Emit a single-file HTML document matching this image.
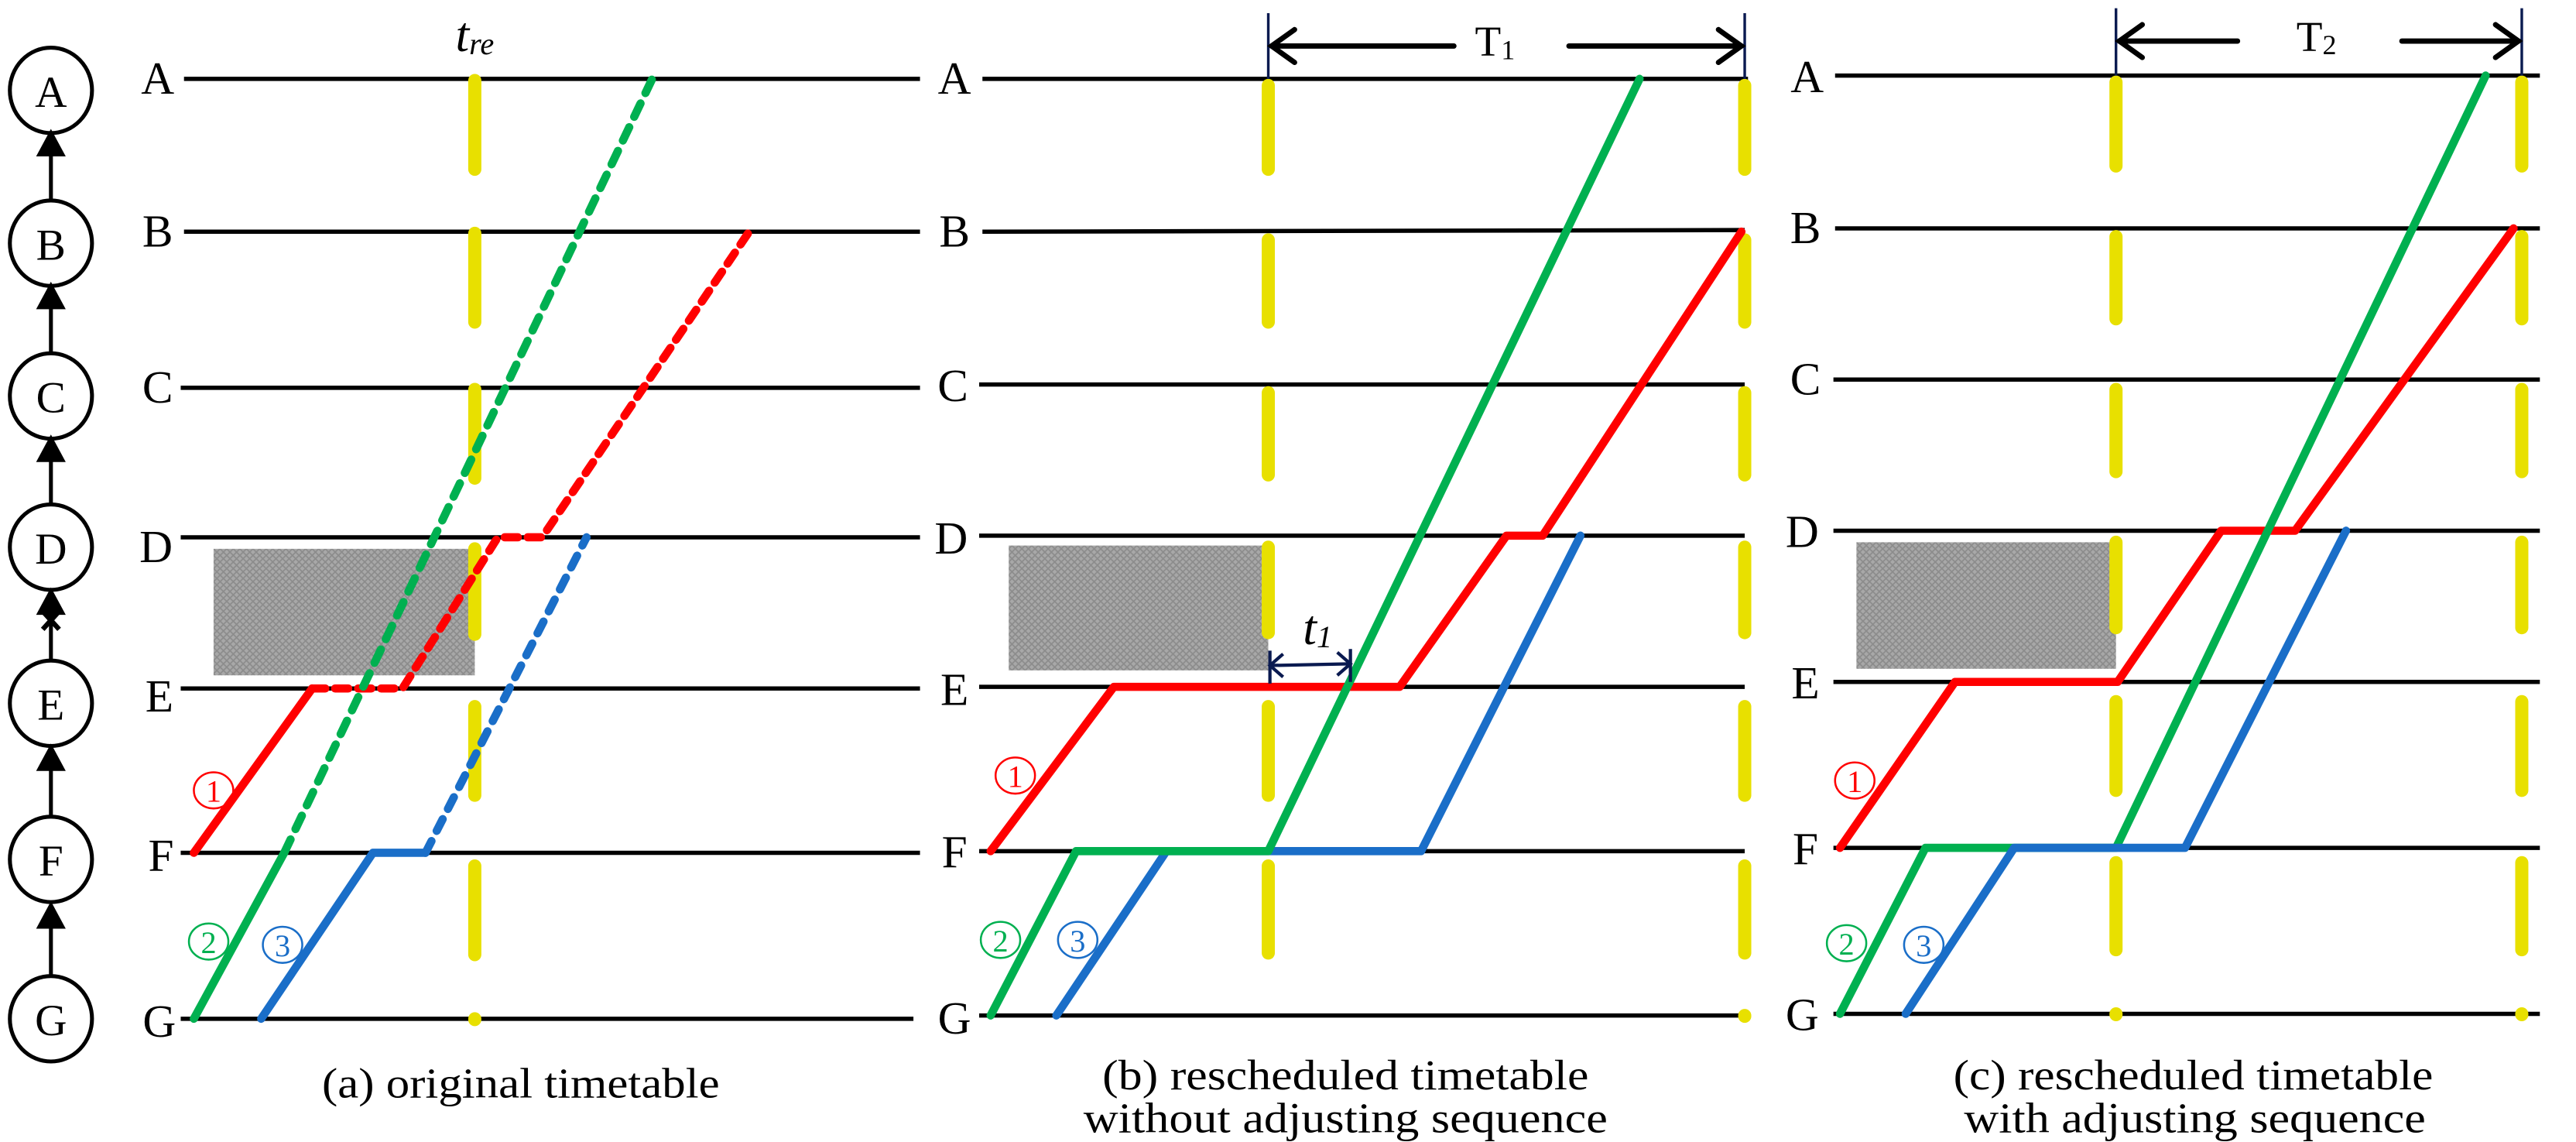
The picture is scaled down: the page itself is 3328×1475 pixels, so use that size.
<!DOCTYPE html>
<html><head><meta charset="utf-8"><style>
html,body{margin:0;padding:0;background:#fff;}
svg{display:block;}
text{font-family:"Liberation Serif",serif;}
</style></head><body>
<svg width="3328" height="1475" viewBox="0 0 1568 695" preserveAspectRatio="none" xmlns="http://www.w3.org/2000/svg">
<defs>
<pattern id="g" width="4" height="4" patternUnits="userSpaceOnUse"><rect width="4" height="4" fill="#a8a8a8"/><path d="M0 0L4 4M4 0L0 4" stroke="#8c8c8c" stroke-width="0.8"/></pattern>
</defs>
<g fill="none" stroke="#000" stroke-width="2.4">
<ellipse cx="31" cy="55" rx="25" ry="26"/>
<ellipse cx="31" cy="148" rx="25" ry="26"/>
<ellipse cx="31" cy="241" rx="25" ry="26"/>
<ellipse cx="31" cy="333" rx="25" ry="26"/>
<ellipse cx="31" cy="428" rx="25" ry="26"/>
<ellipse cx="31" cy="523" rx="25" ry="26"/>
<ellipse cx="31" cy="620" rx="25" ry="26"/>
</g>
<g stroke="#000" stroke-width="2.4">
<line x1="31" y1="122" x2="31" y2="90"/><path d="M24 94 L31 81 L38 94Z" fill="#000"/>
<line x1="31" y1="215" x2="31" y2="183"/><path d="M24 187 L31 174 L38 187Z" fill="#000"/>
<line x1="31" y1="307" x2="31" y2="276"/><path d="M24 280 L31 267 L38 280Z" fill="#000"/>
<line x1="31" y1="402" x2="31" y2="368"/><path d="M24 373 L31 360 L38 373Z" fill="#000"/>
<line x1="26" y1="372" x2="36" y2="383" stroke-width="3"/><line x1="36" y1="372" x2="26" y2="383" stroke-width="3"/>
<line x1="31" y1="497" x2="31" y2="464"/><path d="M24 468 L31 455 L38 468Z" fill="#000"/>
<line x1="31" y1="594" x2="31" y2="560"/><path d="M24 564 L31 551 L38 564Z" fill="#000"/>
</g>
<g font-size="27" text-anchor="middle">
<text x="31" y="65">A</text><text x="31" y="158">B</text><text x="31" y="251">C</text><text x="31" y="343">D</text><text x="31" y="438">E</text><text x="31" y="533">F</text><text x="31" y="630">G</text>
</g>

<!-- Panel a -->
<rect x="130" y="334" width="159" height="77" fill="url(#g)"/>
<g stroke="#000" stroke-width="2.6">
<line x1="112" y1="48" x2="560" y2="48"/><line x1="112" y1="141" x2="560" y2="141"/><line x1="110" y1="236" x2="560" y2="236"/><line x1="110" y1="327" x2="560" y2="327"/><line x1="110" y1="419" x2="560" y2="419"/><line x1="110" y1="519" x2="560" y2="519"/><line x1="110" y1="620" x2="556" y2="620"/>
</g>
<g font-size="28" text-anchor="middle">
<text x="96" y="57">A</text><text x="96" y="150">B</text><text x="96" y="245">C</text><text x="95" y="342">D</text><text x="97" y="433">E</text><text x="98" y="530">F</text><text x="97" y="631">G</text>
</g>
<text x="289" y="31" font-size="30" font-style="italic" text-anchor="middle">t<tspan font-size="19" dy="2">re</tspan></text>
<g stroke="#e8e000" stroke-width="8" stroke-linecap="round">
<line x1="289" y1="49" x2="289" y2="103"/><line x1="289" y1="142" x2="289" y2="196"/><line x1="289" y1="237" x2="289" y2="291"/><line x1="289" y1="334" x2="289" y2="386"/><line x1="289" y1="430" x2="289" y2="484"/><line x1="289" y1="527" x2="289" y2="581"/><line x1="289" y1="620" x2="289" y2="620.5"/>
</g>
<g fill="none" stroke-width="5" stroke-linecap="round" stroke-linejoin="round">
<polyline points="118,519 190,419" stroke="#ff0000"/>
<polyline points="190,419 245,419 303,327 330,327 456,141" stroke="#ff0000" stroke-dasharray="8,6"/>
<polyline points="118,620 173,519" stroke="#00b050"/>
<polyline points="173,519 397,48" stroke="#00b050" stroke-dasharray="9,7"/>
<polyline points="159,620 227,519 259,519" stroke="#1a6ec8"/>
<polyline points="259,519 357,327" stroke="#1a6ec8" stroke-dasharray="8,7"/>
</g>
<g font-size="19" text-anchor="middle" fill="none" stroke-width="1.2">
<ellipse cx="130" cy="481" rx="12" ry="11" stroke="#ff0000"/><text x="130" y="488" fill="#ff0000" stroke="none">1</text>
<ellipse cx="127" cy="573" rx="12" ry="11" stroke="#00b050"/><text x="127" y="580" fill="#00b050" stroke="none">2</text>
<ellipse cx="172" cy="575" rx="12" ry="11" stroke="#1a6ec8"/><text x="172" y="582" fill="#1a6ec8" stroke="none">3</text>
</g>
<text x="317" y="668" font-size="26" text-anchor="middle" textLength="242" lengthAdjust="spacingAndGlyphs">(a) original timetable</text>

<!-- Panel b -->
<rect x="614" y="332" width="158" height="76" fill="url(#g)"/>
<g stroke="#000" stroke-width="2.6">
<line x1="598" y1="48" x2="1064" y2="48"/><line x1="598" y1="141" x2="1062" y2="140"/><line x1="596" y1="234" x2="1062" y2="234"/><line x1="596" y1="326" x2="1062" y2="326"/><line x1="596" y1="418" x2="1062" y2="418"/><line x1="596" y1="518" x2="1062" y2="518"/><line x1="596" y1="618" x2="1062" y2="618"/>
</g>
<g font-size="28" text-anchor="middle">
<text x="581" y="57">A</text><text x="581" y="150">B</text><text x="580" y="244">C</text><text x="579" y="337">D</text><text x="581" y="429">E</text><text x="581" y="528">F</text><text x="581" y="629">G</text>
</g>
<g stroke="#e8e000" stroke-width="8" stroke-linecap="round">
<line x1="772" y1="52" x2="772" y2="103"/><line x1="772" y1="146" x2="772" y2="196"/><line x1="772" y1="239" x2="772" y2="289"/><line x1="772" y1="333" x2="772" y2="385"/><line x1="772" y1="430" x2="772" y2="484"/><line x1="772" y1="527" x2="772" y2="580"/>
<line x1="1062" y1="52" x2="1062" y2="103"/><line x1="1062" y1="146" x2="1062" y2="196"/><line x1="1062" y1="239" x2="1062" y2="289"/><line x1="1062" y1="333" x2="1062" y2="385"/><line x1="1062" y1="430" x2="1062" y2="484"/><line x1="1062" y1="527" x2="1062" y2="580"/><line x1="1062" y1="618" x2="1062" y2="618.5"/>
</g>
<g stroke="#0a1a50" stroke-width="1.6"><line x1="772" y1="8" x2="772" y2="48"/><line x1="1062" y1="8" x2="1062" y2="48"/></g>
<g stroke="#000" stroke-width="3.2" fill="none" stroke-linecap="round">
<line x1="774" y1="28" x2="885" y2="28"/><polyline points="788,18 774,28 788,38"/>
<line x1="955" y1="28" x2="1060" y2="28"/><polyline points="1046,18 1060,28 1046,38"/>
</g>
<text x="910" y="34" font-size="26" text-anchor="middle">T<tspan font-size="17" dy="2">1</tspan></text>
<g fill="none" stroke-width="5" stroke-linecap="round" stroke-linejoin="round">
<polyline points="603,518 678,418 852,418 917,326 939,326 1060,141" stroke="#ff0000"/>
<polyline points="643,618 710,518 772,518 865,518 962,326" stroke="#1a6ec8"/>
<polyline points="603,618 655,518 772,518 998,48" stroke="#00b050"/>
</g>
<g stroke="#0a1a50" stroke-width="2" fill="none">
<line x1="773" y1="405" x2="822" y2="404"/><polyline points="781,398 773,405 781,412"/><polyline points="814,397 822,404 814,411"/>
<line x1="773" y1="396" x2="773" y2="416"/><line x1="822" y1="395" x2="822" y2="415"/>
</g>
<text x="802" y="392" font-size="30" font-style="italic" text-anchor="middle">t<tspan font-size="19" dy="2">1</tspan></text>
<g font-size="19" text-anchor="middle" fill="none" stroke-width="1.2">
<ellipse cx="618" cy="472" rx="12" ry="11" stroke="#ff0000"/><text x="618" y="479" fill="#ff0000" stroke="none">1</text>
<ellipse cx="609" cy="572" rx="12" ry="11" stroke="#00b050"/><text x="609" y="579" fill="#00b050" stroke="none">2</text>
<ellipse cx="656" cy="572" rx="12" ry="11" stroke="#1a6ec8"/><text x="656" y="579" fill="#1a6ec8" stroke="none">3</text>
</g>
<text x="819" y="663" font-size="26" text-anchor="middle" textLength="296" lengthAdjust="spacingAndGlyphs">(b) rescheduled timetable</text>
<text x="819" y="689" font-size="26" text-anchor="middle" textLength="319" lengthAdjust="spacingAndGlyphs">without adjusting sequence</text>

<!-- Panel c -->
<rect x="1130" y="330" width="158" height="77" fill="url(#g)"/>
<g stroke="#000" stroke-width="2.6">
<line x1="1117" y1="46" x2="1546" y2="46"/><line x1="1117" y1="139" x2="1546" y2="139"/><line x1="1116" y1="231" x2="1546" y2="231"/><line x1="1116" y1="323" x2="1546" y2="323"/><line x1="1116" y1="415" x2="1546" y2="415"/><line x1="1116" y1="516" x2="1546" y2="516"/><line x1="1116" y1="617" x2="1546" y2="617"/>
</g>
<g font-size="28" text-anchor="middle">
<text x="1100" y="56">A</text><text x="1099" y="148">B</text><text x="1099" y="240">C</text><text x="1097" y="333">D</text><text x="1099" y="425">E</text><text x="1099" y="526">F</text><text x="1097" y="627">G</text>
</g>
<g stroke="#e8e000" stroke-width="8" stroke-linecap="round">
<line x1="1288" y1="50" x2="1288" y2="101"/><line x1="1288" y1="144" x2="1288" y2="194"/><line x1="1288" y1="237" x2="1288" y2="287"/><line x1="1288" y1="330" x2="1288" y2="382"/><line x1="1288" y1="427" x2="1288" y2="481"/><line x1="1288" y1="525" x2="1288" y2="578"/><line x1="1288" y1="617" x2="1288" y2="617.5"/>
<line x1="1535" y1="50" x2="1535" y2="101"/><line x1="1535" y1="144" x2="1535" y2="194"/><line x1="1535" y1="237" x2="1535" y2="287"/><line x1="1535" y1="330" x2="1535" y2="382"/><line x1="1535" y1="427" x2="1535" y2="481"/><line x1="1535" y1="525" x2="1535" y2="578"/><line x1="1535" y1="617" x2="1535" y2="617.5"/>
</g>
<g stroke="#0a1a50" stroke-width="1.6"><line x1="1288" y1="5" x2="1288" y2="46"/><line x1="1535" y1="5" x2="1535" y2="46"/></g>
<g stroke="#000" stroke-width="3.2" fill="none" stroke-linecap="round">
<line x1="1290" y1="25" x2="1362" y2="25"/><polyline points="1304,15 1290,25 1304,35"/>
<line x1="1462" y1="25" x2="1533" y2="25"/><polyline points="1519,15 1533,25 1519,35"/>
</g>
<text x="1410" y="31" font-size="26" text-anchor="middle">T<tspan font-size="17" dy="2">2</tspan></text>
<g fill="none" stroke-width="5" stroke-linecap="round" stroke-linejoin="round">
<polyline points="1120,516 1190,415 1289,415 1352,323 1397,323 1530,139" stroke="#ff0000"/>
<polyline points="1120,617 1172,516 1288,516 1513,46" stroke="#00b050"/>
<polyline points="1160,617 1226,516 1288,516 1330,516 1428,323" stroke="#1a6ec8"/>
</g>
<g font-size="19" text-anchor="middle" fill="none" stroke-width="1.2">
<ellipse cx="1129" cy="475" rx="12" ry="11" stroke="#ff0000"/><text x="1129" y="482" fill="#ff0000" stroke="none">1</text>
<ellipse cx="1124" cy="574" rx="12" ry="11" stroke="#00b050"/><text x="1124" y="581" fill="#00b050" stroke="none">2</text>
<ellipse cx="1171" cy="575" rx="12" ry="11" stroke="#1a6ec8"/><text x="1171" y="582" fill="#1a6ec8" stroke="none">3</text>
</g>
<text x="1335" y="663" font-size="26" text-anchor="middle" textLength="292" lengthAdjust="spacingAndGlyphs">(c) rescheduled timetable</text>
<text x="1336" y="689" font-size="26" text-anchor="middle" textLength="281" lengthAdjust="spacingAndGlyphs">with adjusting sequence</text>
</svg>
</body></html>
